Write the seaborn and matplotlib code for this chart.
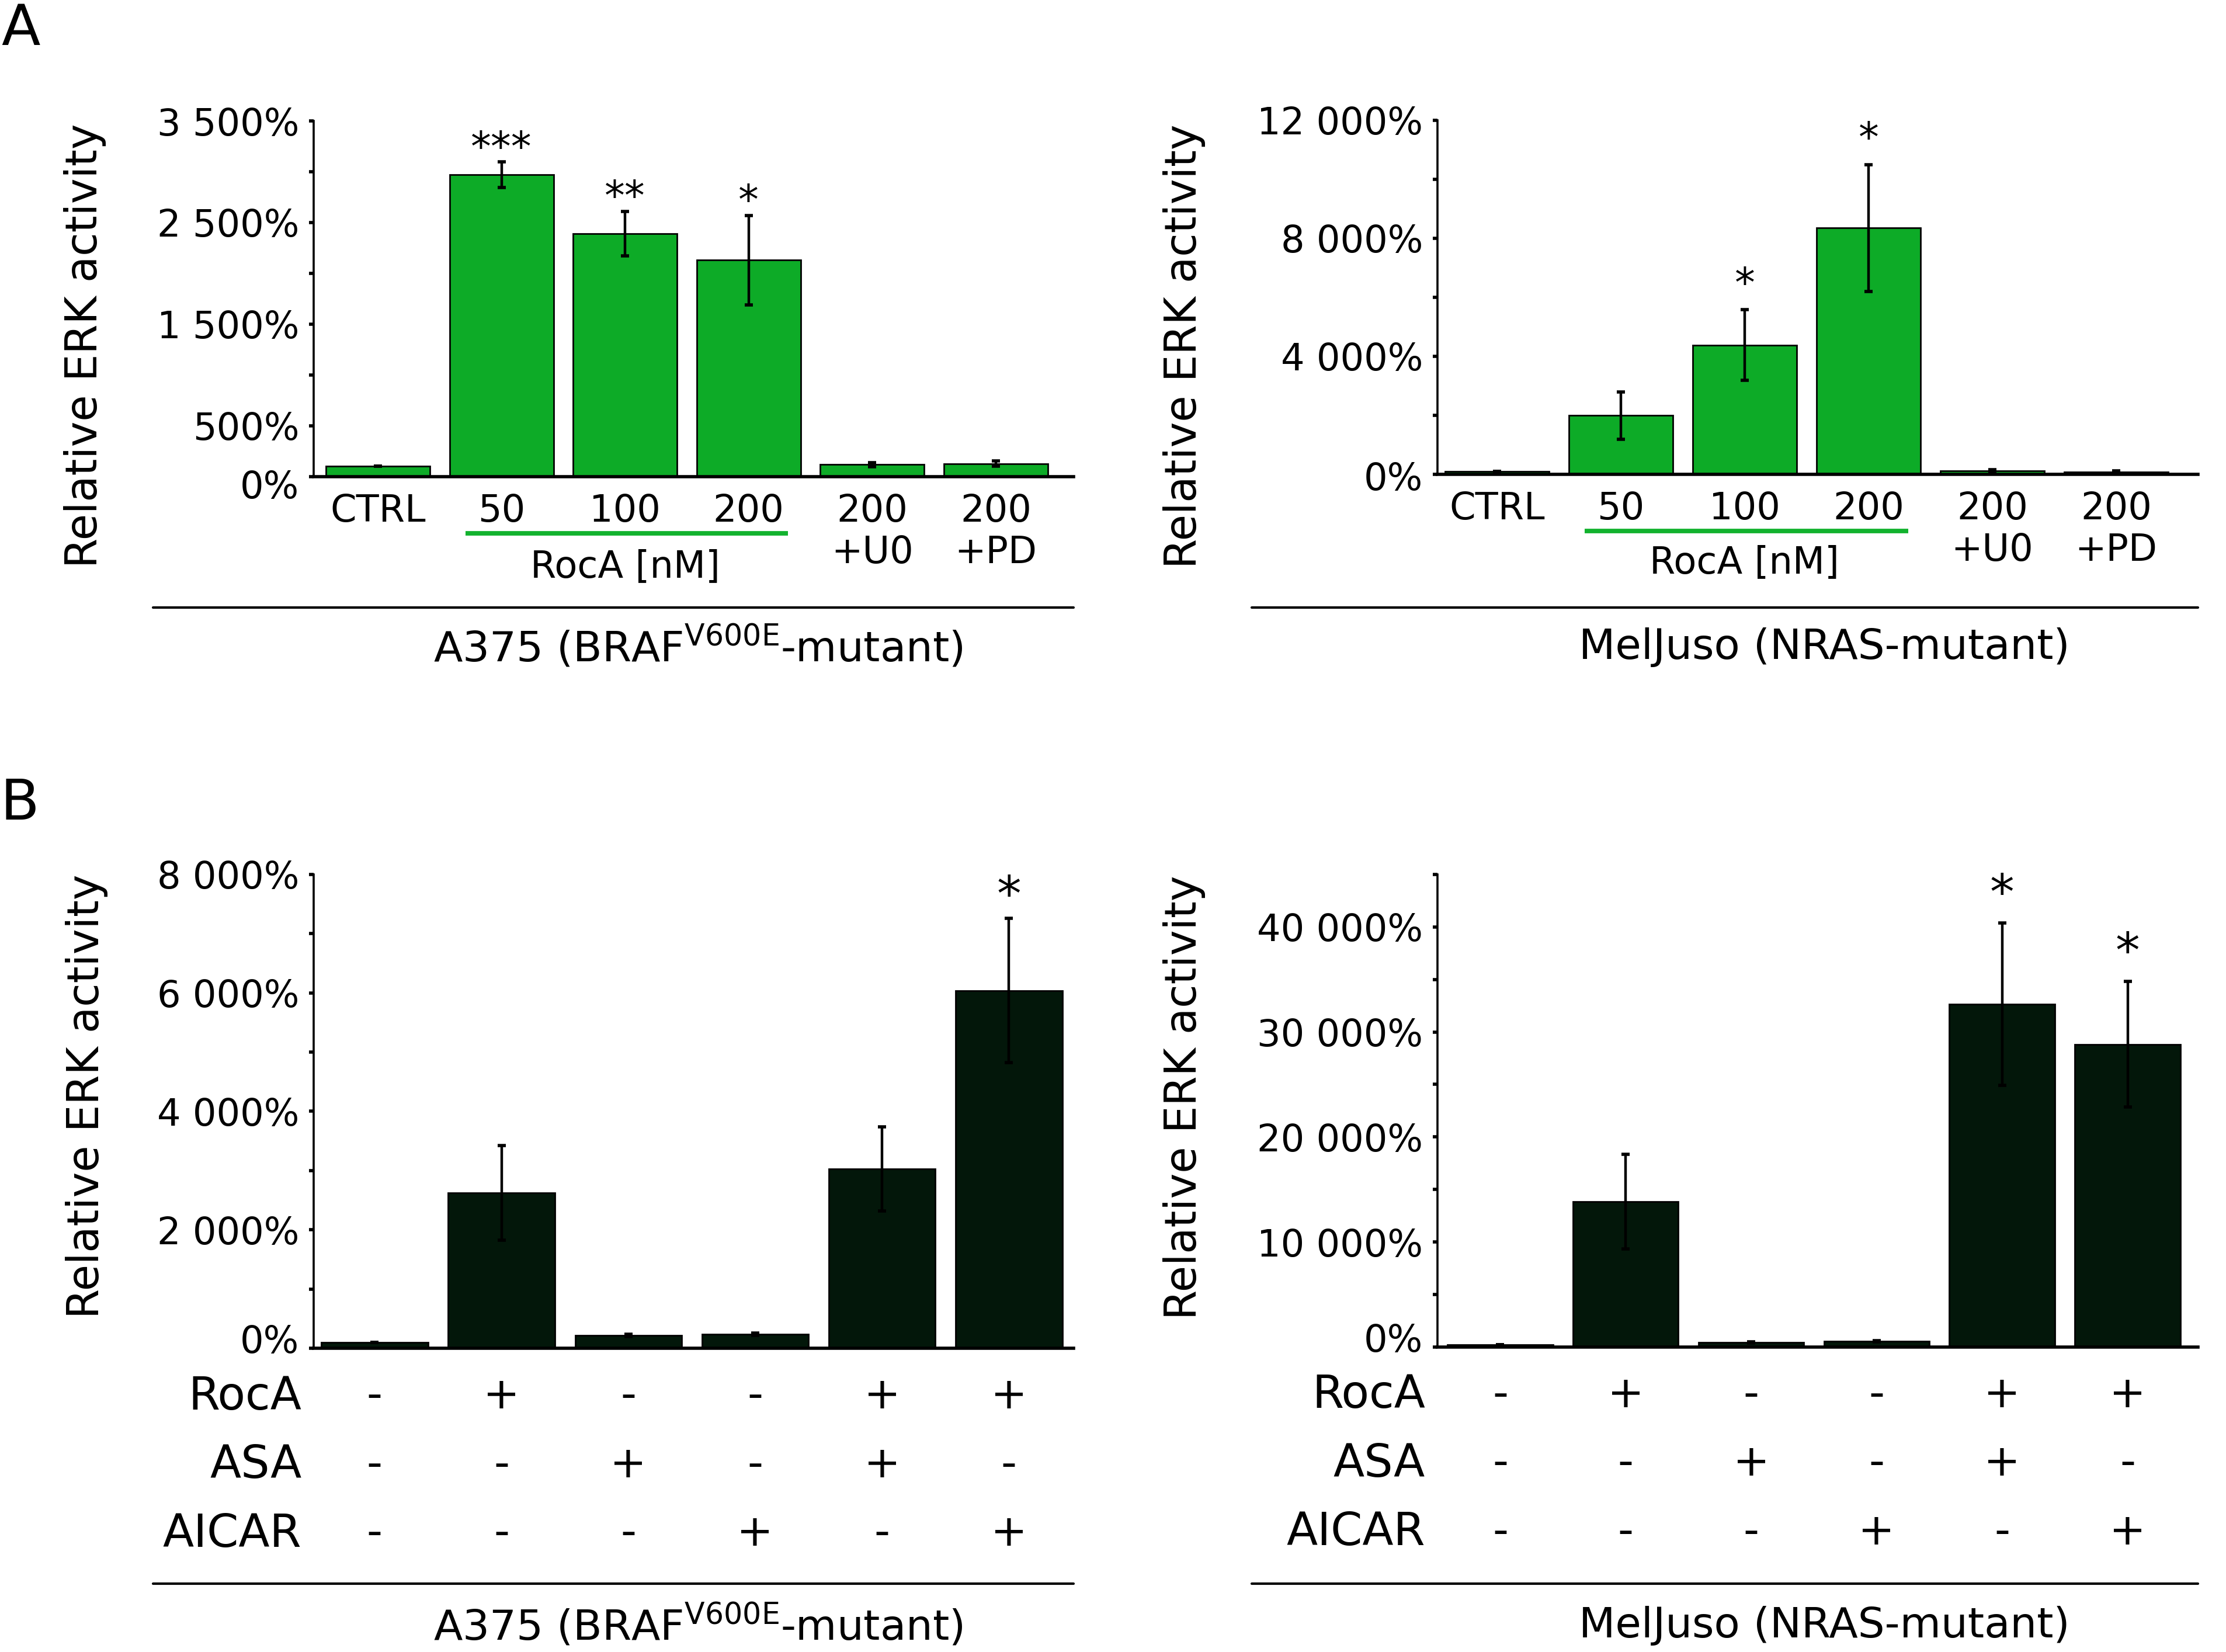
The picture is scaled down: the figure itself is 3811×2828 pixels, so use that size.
import numpy as np
import pandas as pd
import matplotlib
matplotlib.use("Agg")
import matplotlib.pyplot as plt
import seaborn as sns
from matplotlib.lines import Line2D
from matplotlib.transforms import ScaledTranslation, blended_transform_factory

# ---- panel A: RocA dose response ----
a_groups = ["CTRL", "50", "100", "200", "200\n+U0", "200\n+PD"]

a375_a_mean = [100, 2970, 2390, 2130, 118, 128]
a375_a_err = [0, 125, 220, 440, 20, 25]
a375_a_stars = ["", "***", "**", "*", "", ""]
a375_a_yticks = [0, 500, 1000, 1500, 2000, 2500, 3000, 3500]
a375_a_ylabels = ["0%", "500%", "", "1 500%", "", "2 500%", "", "3 500%"]

melj_a_mean = [100, 1990, 4380, 8350, 125, 75]
melj_a_err = [0, 800, 1200, 2150, 40, 40]
melj_a_stars = ["", "", "*", "*", "", ""]
melj_a_yticks = [0, 2000, 4000, 6000, 8000, 10000, 12000]
melj_a_ylabels = ["0%", "", "4 000%", "", "8 000%", "", "12 000%"]

# ---- panel B: combinations ----
b_groups = ["c1", "c2", "c3", "c4", "c5", "c6"]
roca = ["-", "+", "-", "-", "+", "+"]
asa = ["-", "-", "+", "-", "+", "-"]
aicar = ["-", "-", "-", "+", "-", "+"]

a375_b_mean = [95, 2620, 215, 240, 3030, 6040]
a375_b_err = [0, 800, 20, 20, 710, 1220]
a375_b_stars = ["", "", "", "", "", "*"]
a375_b_yticks = [0, 1000, 2000, 3000, 4000, 5000, 6000, 7000, 8000]
a375_b_ylabels = ["0%", "", "2 000%", "", "4 000%", "", "6 000%", "", "8 000%"]

melj_b_mean = [200, 13850, 420, 560, 32650, 28830]
melj_b_err = [0, 4490, 60, 70, 7740, 6000]
melj_b_stars = ["", "", "", "", "*", "*"]
melj_b_yticks = [0, 5000, 10000, 15000, 20000, 25000, 30000, 35000, 40000, 45000]
melj_b_ylabels = ["0%", "", "10 000%", "", "20 000%", "", "30 000%", "", "40 000%", ""]

GREEN = "#0dab27"
DARK = "#03170a"
LINE_GREEN = "#12b22e"

sns.set_theme(style="ticks")
plt.rcParams["font.family"] = ["DejaVu Sans"]
plt.rcParams["mathtext.fontset"] = "dejavusans"
plt.rcParams["text.color"] = "black"
plt.rcParams["axes.labelcolor"] = "black"
plt.rcParams["xtick.color"] = "black"
plt.rcParams["ytick.color"] = "black"
plt.rcParams["axes.edgecolor"] = "black"

fig = plt.figure(figsize=(19.06, 14.14), dpi=200)

ax_al = fig.add_axes([0.1409, 0.7115, 0.3413, 0.2153])
ax_ar = fig.add_axes([0.6456, 0.7129, 0.3415, 0.2143])
ax_bl = fig.add_axes([0.1409, 0.1839, 0.3413, 0.2868])
ax_br = fig.add_axes([0.6456, 0.1846, 0.3415, 0.2861])


def draw_bars(ax, groups, mean, err, stars, color, yticks, ylabels,
              xlim, star_size, star_gap, zero_shift):
    df = pd.DataFrame({"group": groups, "value": mean})
    sns.barplot(data=df, x="group", y="value", color=color, saturation=1,
                edgecolor="black", linewidth=1.0, width=0.84, ax=ax)
    x = np.arange(len(groups))
    ax.errorbar(x, mean, yerr=err, fmt="none", ecolor="black",
                elinewidth=1.6, capsize=2.6, capthick=2.0)
    for xi, m, e, s in zip(x, mean, err, stars):
        if s:
            ax.annotate(s, (xi, m + e), xytext=(0, star_gap),
                        textcoords="offset points", ha="center",
                        va="center", fontsize=star_size)
    ax.set_xlim(*xlim)
    ax.set_ylim(yticks[0], yticks[-1])
    ax.set_yticks(yticks)
    ax.set_yticklabels(ylabels)
    ax.set_xlabel("")
    ax.set_ylabel("")
    sns.despine(ax=ax)
    ax.spines["left"].set_linewidth(1.3)
    ax.spines["bottom"].set_linewidth(2.0)
    ax.tick_params(axis="y", direction="out", length=3, width=2,
                   pad=6, labelsize=23, color="black")
    ax.tick_params(axis="x", length=0, pad=10, labelsize=23)
    zero = ax.get_yticklabels()[0]
    zero.set_transform(zero.get_transform() +
                       ScaledTranslation(0, zero_shift / 72, fig.dpi_scale_trans))


draw_bars(ax_al, a_groups, a375_a_mean, a375_a_err, a375_a_stars, GREEN,
          a375_a_yticks, a375_a_ylabels, (-0.52, 5.63), 25, 8, -4.5)
draw_bars(ax_ar, a_groups, melj_a_mean, melj_a_err, melj_a_stars, GREEN,
          melj_a_yticks, melj_a_ylabels, (-0.48, 5.66), 25, 15, -1)
draw_bars(ax_bl, b_groups, a375_b_mean, a375_b_err, a375_b_stars, DARK,
          a375_b_yticks, a375_b_ylabels, (-0.48, 5.51), 30, 13, 6)
draw_bars(ax_br, b_groups, melj_b_mean, melj_b_err, melj_b_stars, DARK,
          melj_b_yticks, melj_b_ylabels, (-0.50, 5.56), 30, 17, 6)

# RocA dose bracket under panel A
for ax, ly, ty in [(ax_al, -0.159, -0.253), (ax_ar, -0.160, -0.249)]:
    tr = blended_transform_factory(ax.transData, ax.transAxes)
    ax.plot([0.71, 3.32], [ly, ly], transform=tr, clip_on=False,
            color=LINE_GREEN, lw=2.8, solid_capstyle="butt")
    ax.text(2.0, ty, "RocA [nM]", transform=tr, ha="center", va="center",
            fontsize=23)

# treatment grid under panel B
rows = [("RocA", roca, -0.102), ("ASA", asa, -0.247), ("AICAR", aicar, -0.392)]
for ax in [ax_bl, ax_br]:
    ax.set_xticklabels([])
    tr = blended_transform_factory(ax.transData, ax.transAxes)
    for name, signs, ry in rows:
        ax.text(-0.016, ry, name, transform=ax.transAxes, ha="right",
                va="center", fontsize=28)
        for xi, s in enumerate(signs):
            ax.text(xi, ry, s, transform=tr, ha="center", va="center",
                    fontsize=27)

# y labels
for x, y in [(0.0383, 0.7907), (0.5318, 0.7903), (0.0390, 0.3363), (0.5320, 0.3355)]:
    fig.text(x, y, "Relative ERK activity", rotation=90, ha="center",
             va="center", fontsize=26.5)

# cell line captions with rules
a375_name = r"A375 (BRAF$^{\mathrm{V600E}}$-mutant)"
melj_name = "MelJuso (NRAS-mutant)"
for ly, ty in [(0.6322, 0.6082), (0.0414, 0.0159)]:
    fig.add_artist(Line2D([0.0687, 0.4822], [ly, ly], color="black", lw=1.5))
    fig.add_artist(Line2D([0.5622, 0.9871], [ly, ly], color="black", lw=1.5))
    fig.text(0.3135, ty, a375_name, ha="center", va="center", fontsize=26)
    fig.text(0.8193, ty, melj_name, ha="center", va="center", fontsize=26)

fig.text(0.0094, 0.982, "A", ha="center", va="center", fontsize=35)
fig.text(0.0090, 0.5134, "B", ha="center", va="center", fontsize=35)

fig.savefig("out.png", dpi=200, facecolor="white")
